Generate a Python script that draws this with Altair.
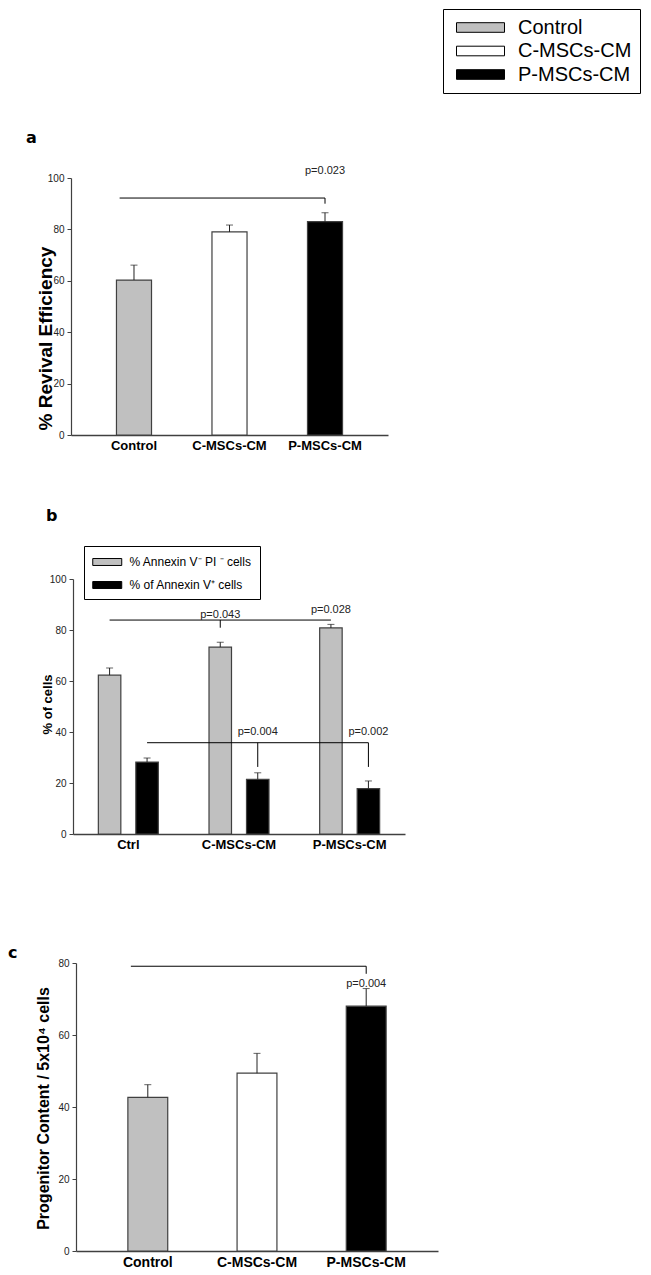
import altair as alt
import pandas as pd

# ---------------- data ----------------
categories = ["Control", "C-MSCs-CM", "P-MSCs-CM"]
revival_mean = [60.3, 79.0, 83.0]
revival_top = [66.1, 81.7, 86.5]

groups_b = ["Ctrl", "C-MSCs-CM", "P-MSCs-CM"]
series_b = ["% Annexin V\u207b PI \u207b cells", "% of Annexin V\u207a cells"]
annexin_neg_mean = [62.3, 73.3, 80.8]
annexin_neg_top = [65.1, 75.2, 82.2]
annexin_pos_mean = [28.2, 21.4, 17.8]
annexin_pos_top = [29.8, 24.0, 20.8]

progenitor_mean = [42.7, 49.4, 68.0]
progenitor_top = [46.2, 54.9, 72.9]

colors3 = ["#c0c0c0", "#ffffff", "#000000"]
colors2 = ["#c0c0c0", "#000000"]

SANS = "Liberation Sans, Arial, sans-serif"
LETTER = "DejaVu Sans, Verdana, sans-serif"
DARK = "#404040"


def yaxis(title, values, title_x, title_y, title_size, offset=0):
    return alt.Axis(values=values, grid=False, title=title, titleFont=SANS,
                    titleFontSize=title_size, titleFontWeight="bold", titleColor="black",
                    titleAngle=270, titleX=title_x, titleY=title_y, titleAlign="center",
                    titleBaseline="alphabetic", labelFont=SANS, labelFontSize=10,
                    labelColor="#222222", tickSize=4, tickColor=DARK, domainColor=DARK,
                    domainWidth=1.2, labelPadding=3, offset=offset)


def xaxis(size):
    return alt.Axis(title=None, labelAngle=0, ticks=False, labelFont=SANS,
                    labelFontWeight="bold", labelFontSize=size, labelColor="black",
                    labelPadding=4, domainColor=DARK, domainWidth=1.5)


def letter(ch, x, y):
    return alt.Chart(pd.DataFrame({"t": [ch]})).mark_text(
        font=LETTER, fontWeight="bold", fontSize=16, align="left",
        baseline="alphabetic", color="black").encode(
        text="t:N", x=alt.value(x), y=alt.value(y))


def single_panel(mean, top, dom, ticks, ytitle, title_x, title_y, title_size,
                 width, height, xrange, yrange, pi, po, xsize, yoffset,
                 bracket_y, drop_y, p_label, p_y, bp_left, legend, let):
    df = pd.DataFrame({"cat": categories, "mean": mean, "top": top})
    xs = alt.Scale(domain=categories, range=xrange, paddingInner=pi, paddingOuter=po)
    ys = alt.Scale(domain=dom, range=yrange, nice=False)
    x = alt.X("cat:N", sort=categories, scale=xs, axis=xaxis(xsize))
    y = alt.Y("mean:Q", scale=ys, axis=yaxis(ytitle, ticks, title_x, title_y, title_size, yoffset))
    bars = alt.Chart(df).mark_bar(stroke=DARK, strokeWidth=1.2).encode(
        x=x, y=y,
        color=alt.Color("cat:N", scale=alt.Scale(domain=categories, range=colors3),
                        legend=legend))
    err = alt.Chart(df).mark_rule(color="#222222", strokeWidth=1).encode(
        x="cat:N", y="mean:Q", y2="top:Q")
    cap = alt.Chart(df).mark_tick(color="#222222", thickness=1, size=7).encode(
        x="cat:N", y="top:Q")
    ann = pd.DataFrame({"a": [categories[0]], "b": [categories[2]], "y": [bracket_y],
                        "yd": [drop_y], "lab": [p_label], "ty": [p_y]})
    hline = alt.Chart(ann).mark_rule(color="black", strokeWidth=1).encode(
        x=alt.X("a:N", bandPosition=bp_left), x2=alt.X2("b:N", bandPosition=0.5), y="y:Q")
    vline = alt.Chart(ann).mark_rule(color="black", strokeWidth=1).encode(
        x="b:N", y="y:Q", y2="yd:Q")
    txt = alt.Chart(ann).mark_text(font=SANS, fontSize=11, baseline="middle",
                                   color="#222222").encode(x="b:N", y="ty:Q", text="lab:N")
    return alt.layer(bars, err, cap, hline, vline, txt, let).properties(width=width, height=height)


legend_top = alt.Legend(title=None, orient="none", legendX=372, legendY=-169,
                        symbolType="M-1,-0.48H3.8V0.48H-1Z", symbolSize=400,
                        symbolStrokeColor="black", symbolStrokeWidth=1,
                        symbolOffset=5, labelOffset=41,
                        labelFont=SANS, labelFontSize=20, labelColor="black",
                        strokeColor="black", fillColor="white",
                        padding=8, rowPadding=2.5, cornerRadius=0)

panel_a = single_panel(revival_mean, revival_top, [0, 100], [0, 20, 40, 60, 80, 100],
                       "% Revival Efficiency", -20, 160, 19, 317, 257, [0, 317], [257, 0],
                       0.633, 0.476, 13, 0, 92.2, 90.0, "p=0.023", 102.7, 0.09,
                       legend_top, letter("a", -45, -35))

panel_c = single_panel(progenitor_mean, progenitor_top, [0, 80], [0, 20, 40, 60, 80],
                       "Progenitor Content / 5x10\u2074 cells", -28, 274, 16, 367, 417,
                       [5, 367], [417, 129], 0.635, 0.475, 14, -5, 79.1, 77.0,
                       "p=0.004", 74.2, 0.075, None, letter("c", -63, 124))

# ---------------- panel b ----------------
rows = []
for i, g in enumerate(groups_b):
    rows.append({"grp": g, "ser": series_b[0], "mean": annexin_neg_mean[i], "top": annexin_neg_top[i]})
    rows.append({"grp": g, "ser": series_b[1], "mean": annexin_pos_mean[i], "top": annexin_pos_top[i]})
df_b = pd.DataFrame(rows)

xb = alt.X("grp:N", sort=groups_b,
           scale=alt.Scale(domain=groups_b, range=[2, 334], paddingInner=0, paddingOuter=0),
           axis=xaxis(13))
xob = alt.XOffset("ser:N", sort=series_b,
                  scale=alt.Scale(domain=series_b, paddingInner=0.4, paddingOuter=0.676))
yb = alt.Y("mean:Q", scale=alt.Scale(domain=[0, 100], range=[399, 144], nice=False),
           axis=yaxis("% of cells", [0, 20, 40, 60, 80, 100], -22, 269, 13, -2))

legend_b = alt.Legend(title=None, orient="none", legendX=13, legendY=111,
                      symbolType="M-1,-0.48H3V0.48H-1Z", symbolSize=210,
                      symbolStrokeColor="black", symbolStrokeWidth=1,
                      labelFont=SANS, labelFontSize=12, labelColor="black",
                      labelOffset=21.5, strokeColor="black", fillColor="white",
                      padding=8, rowPadding=9, cornerRadius=0)

bars_b = alt.Chart(df_b).mark_bar(stroke=DARK, strokeWidth=1.2).encode(
    x=xb, xOffset=xob, y=yb,
    color=alt.Color("ser:N", sort=series_b,
                    scale=alt.Scale(domain=series_b, range=colors2), legend=legend_b))
err_b = alt.Chart(df_b).mark_rule(color="#222222", strokeWidth=1).encode(
    x="grp:N", xOffset="ser:N", y="mean:Q", y2="top:Q")
cap_b = alt.Chart(df_b).mark_tick(color="#222222", thickness=1, size=7).encode(
    x="grp:N", xOffset="ser:N", y="top:Q")

br_up = pd.DataFrame({"grp": [groups_b[0], groups_b[2]], "ser": [series_b[0]] * 2, "y": [83.9, 83.9]})
br_lo = pd.DataFrame({"grp": [groups_b[0], groups_b[2]], "ser": [series_b[1]] * 2, "y": [35.8, 35.8]})
line_up = alt.Chart(br_up).mark_line(color="black", strokeWidth=1).encode(
    x="grp:N", xOffset="ser:N", y="y:Q")
line_lo = alt.Chart(br_lo).mark_line(color="black", strokeWidth=1).encode(
    x="grp:N", xOffset="ser:N", y="y:Q")
drops = pd.DataFrame({"grp": [groups_b[1], groups_b[1], groups_b[2]],
                      "ser": [series_b[0], series_b[1], series_b[1]],
                      "y": [83.9, 35.8, 35.8], "yd": [80.9, 26.3, 26.3]})
drop_b = alt.Chart(drops).mark_rule(color="black", strokeWidth=1).encode(
    x="grp:N", xOffset="ser:N", y="y:Q", y2="yd:Q")
plabs = pd.DataFrame({"grp": [groups_b[1], groups_b[2], groups_b[1], groups_b[2]],
                      "ser": [series_b[0], series_b[0], series_b[1], series_b[1]],
                      "ty": [85.9, 87.8, 40.0, 40.0],
                      "lab": ["p=0.043", "p=0.028", "p=0.004", "p=0.002"]})
txt_b = alt.Chart(plabs).mark_text(font=SANS, fontSize=11, baseline="middle",
                                   color="#222222").encode(
    x="grp:N", xOffset="ser:N", y="ty:Q", text="lab:N")

panel_b = alt.layer(bars_b, err_b, cap_b, line_up, line_lo, drop_b, txt_b,
                    letter("b", -25, 86)).properties(width=334, height=399)

chart = alt.vconcat(panel_a, panel_b, panel_c, spacing=0, bounds="flush").resolve_scale(
    color="independent", x="independent", y="independent").resolve_legend(
    color="independent").properties(padding=0).configure_view(stroke=None)

chart.save("out.html", embed_options={"renderer": "svg", "actions": False})
